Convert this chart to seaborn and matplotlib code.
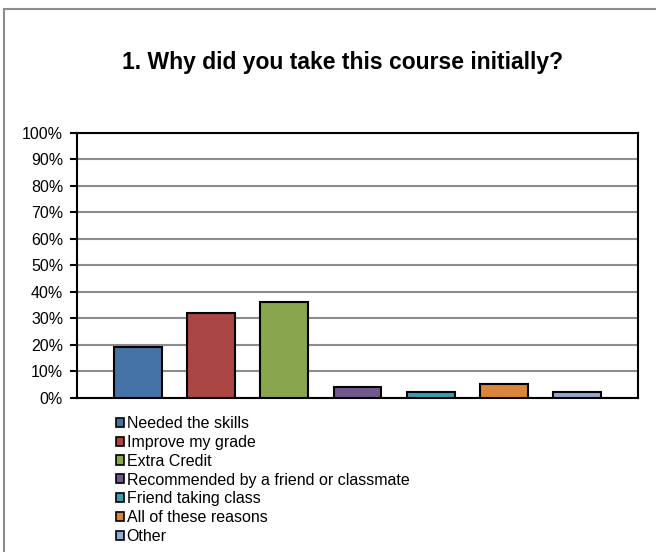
import matplotlib
matplotlib.use("Agg")
import matplotlib.pyplot as plt
from matplotlib.patches import Patch, Rectangle
from matplotlib.ticker import PercentFormatter, MultipleLocator
import pandas as pd
import seaborn as sns

# survey answers and share of respondents
reasons = ["Needed the skills", "Improve my grade", "Extra Credit",
           "Recommended by a friend or classmate", "Friend taking class",
           "All of these reasons", "Other"]
shares = [0.19, 0.32, 0.36, 0.04, 0.02, 0.05, 0.02]
colors = ["#4572A7", "#AA4643", "#89A54E", "#71588F", "#4198AF", "#DB843D", "#93A9CF"]

sns.set_style("white")
plt.rcParams["font.family"] = ["Liberation Sans", "DejaVu Sans"]
plt.rcParams.update({"text.color": "black", "axes.labelcolor": "black",
                     "xtick.color": "black", "ytick.color": "black"})

df = pd.DataFrame({"reason": reasons, "share": shares})

fig = plt.figure(figsize=(6.56, 5.52), dpi=100)
ax = fig.add_axes([77 / 656, 154.3 / 552, 561 / 656, 265 / 552])

sns.barplot(data=df, x="reason", y="share", hue="reason", palette=colors,
            saturation=1, width=0.655, edgecolor="black", linewidth=1.5, legend=False,
            order=reasons, hue_order=reasons, ax=ax, zorder=3)

ax.set_ylim(0, 1)
ax.set_xlim(-0.83, 6.83)
ax.yaxis.set_major_locator(MultipleLocator(0.1))
ax.yaxis.set_major_formatter(PercentFormatter(1.0, decimals=0))
ax.grid(axis="y", color="#8c8c8c", lw=1.5, zorder=0)
ax.set_axisbelow(True)
ax.set_xticks([])
ax.set_xlabel("")
ax.set_ylabel("")
ax.tick_params(axis="y", which="major", left=True, length=5, width=1.5,
               color="black", labelsize=11.5, pad=5)
for s in ax.spines.values():
    s.set_visible(True)
    s.set_color("black")
    s.set_linewidth(1.5)

fig.text(343 / 656, 1 - 63 / 552, "1. Why did you take this course initially?",
         ha="center", va="center", fontsize=16.5, fontweight="bold")

handles = [Patch(facecolor=c, edgecolor="black", linewidth=1.2) for c in colors]
fig.legend(handles, reasons, loc="upper left", bbox_to_anchor=(116 / 656, 1 - 416 / 552),
           frameon=False, fontsize=11.5, handlelength=0.5, handleheight=0.5,
           handletextpad=0.17, labelspacing=0.24, borderaxespad=0, borderpad=0)

# outer chart frame (right/bottom edges run off the picture)
fig.patches.append(Rectangle((4 / 656, -0.1), 1.2, 1 - 9 / 552 + 0.1,
                             transform=fig.transFigure, fill=False,
                             edgecolor="#8c8c8c", lw=1.5))

fig.savefig("out.png", dpi=100)
